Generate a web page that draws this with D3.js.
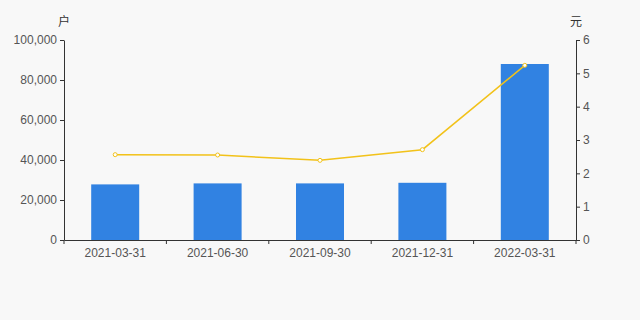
<!DOCTYPE html>
<html>
<head>
<meta charset="utf-8">
<script src="https://cdn.jsdelivr.net/npm/d3@7"></script>
<style>
  html, body { margin: 0; padding: 0; background: #f8f8f8; }
  svg { display: block; font-family: "Noto Sans CJK SC", "DejaVu Sans", sans-serif; }
</style>
</head>
<body>
<svg id="chart" width="640" height="320"></svg>
<script>
const dates = ["2021-03-31", "2021-06-30", "2021-09-30", "2021-12-31", "2022-03-31"];
const holders = [27800, 28300, 28300, 28600, 88000];
const avgPrice = [2.56, 2.55, 2.39, 2.71, 5.24];
const leftTicks = [0, 20000, 40000, 60000, 80000, 100000];
const rightTicks = [0, 1, 2, 3, 4, 5, 6];

const margin = {top: 40, right: 64, bottom: 80, left: 64};
const width = 640 - margin.left - margin.right;
const height = 320 - margin.top - margin.bottom;

const svg = d3.select("#chart");
svg.append("rect").attr("width", 640).attr("height", 320).attr("fill", "#f8f8f8");

const g = svg.append("g")
  .attr("transform", "translate(" + margin.left + "," + margin.top + ")");

// scales
const x = d3.scaleBand().domain(dates).range([0, width]);
const yL = d3.scaleLinear().domain([0, 100000]).range([height, 0]);
const yR = d3.scaleLinear().domain([0, 6]).range([height, 0]);

const barW = 48;

// bars
g.selectAll(".bar")
  .data(dates)
  .enter()
  .append("rect")
  .attr("x", (d) => x(d) + x.bandwidth() / 2 - barW / 2)
  .attr("y", (d, i) => yL(holders[i]))
  .attr("width", barW)
  .attr("height", (d, i) => height - yL(holders[i]))
  .attr("fill", "#3182e2");

// line
const line = d3.line()
  .x((d, i) => x(dates[i]) + x.bandwidth() / 2)
  .y((d) => yR(d));
g.append("path")
  .datum(avgPrice)
  .attr("d", line)
  .attr("fill", "none")
  .attr("stroke", "#f2c21a")
  .attr("stroke-width", 1.5);
g.selectAll(".pt")
  .data(avgPrice)
  .enter()
  .append("circle")
  .attr("cx", (d, i) => x(dates[i]) + x.bandwidth() / 2)
  .attr("cy", (d) => yR(d))
  .attr("r", 2)
  .attr("fill", "#ffffff")
  .attr("stroke", "#f2c21a")
  .attr("stroke-width", 1);

function styleAxis(sel) {
  sel.select(".domain").attr("stroke", "#333");
  sel.selectAll(".tick line").attr("stroke", "#333");
  sel.selectAll(".tick text").attr("fill", "#555").style("font-size", "12px");
}

// x axis (ticks on band boundaries)
const xAxis = g.append("g")
  .attr("transform", "translate(0," + height + ")")
  .call(d3.axisBottom(x).tickSize(0).tickPadding(8).tickSizeOuter(0));
styleAxis(xAxis);
xAxis.selectAll(".tick line").remove();
xAxis.selectAll(".bound")
  .data(dates.concat([null]))
  .enter()
  .append("line")
  .attr("x1", (d, i) => i * x.step())
  .attr("x2", (d, i) => i * x.step())
  .attr("y1", 0)
  .attr("y2", 4)
  .attr("stroke", "#333");

// left axis
const lAxis = g.append("g")
  .call(d3.axisLeft(yL).tickValues(leftTicks).tickSize(4).tickSizeOuter(0).tickFormat(d3.format(",")));
styleAxis(lAxis);

// right axis
const rAxis = g.append("g")
  .attr("transform", "translate(" + width + ",0)")
  .call(d3.axisRight(yR).tickValues(rightTicks).tickSize(4).tickSizeOuter(0).tickFormat(d3.format("d")));
styleAxis(rAxis);

// units
g.append("text")
  .attr("x", 0)
  .attr("y", -14)
  .attr("text-anchor", "middle")
  .attr("fill", "#333")
  .style("font-size", "12px")
  .text("户");
g.append("text")
  .attr("x", width)
  .attr("y", -14)
  .attr("text-anchor", "middle")
  .attr("fill", "#333")
  .style("font-size", "12px")
  .text("元");
</script>
</body>
</html>
